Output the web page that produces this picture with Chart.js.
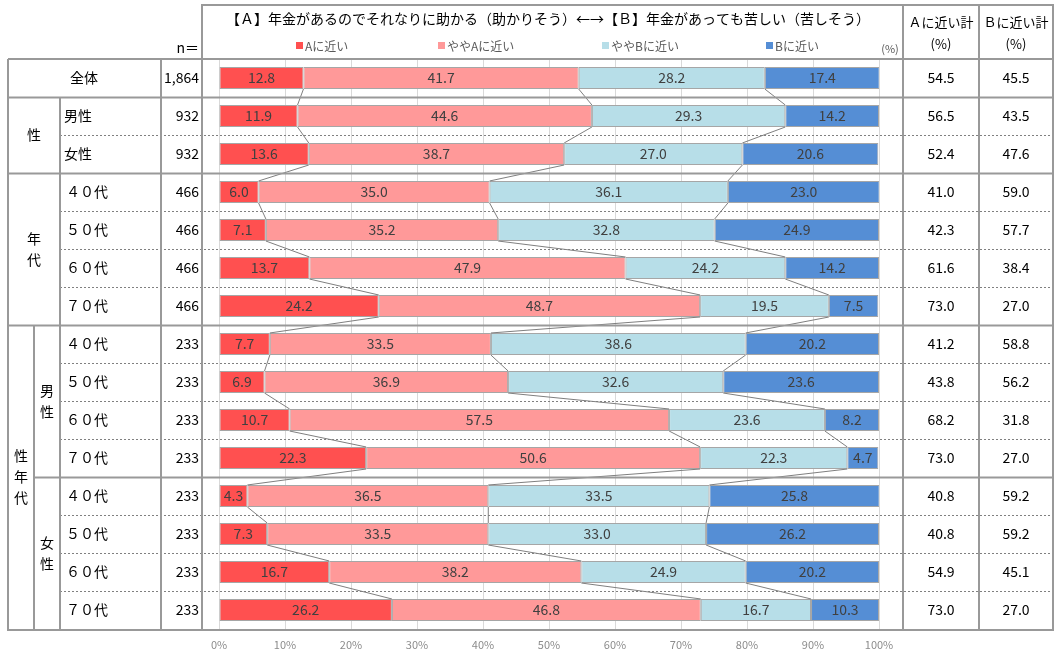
<!DOCTYPE html>
<html>
<head>
<meta charset="utf-8">
<script src="https://cdn.jsdelivr.net/npm/chart.js@4.4.1/dist/chart.umd.min.js"></script>
<style>
html,body{margin:0;padding:0;background:#fff;}
#wrap{width:1055px;height:652px;}
</style>
</head>
<body>
<div id="wrap"><canvas id="chart" width="1055" height="652"></canvas></div>
<script>
// ── data ──
var ROW_LABELS = ['全体','男性','女性','４０代','５０代','６０代','７０代','４０代','５０代','６０代','７０代','４０代','５０代','６０代','７０代'];
var N_LABELS = ['1,864','932','932','466','466','466','466','233','233','233','233','233','233','233','233'];
var SERIES_NAMES = ['Aに近い','ややAに近い','ややBに近い','Bに近い'];
var A_NEAR = [12.8,11.9,13.6,6.0,7.1,13.7,24.2,7.7,6.9,10.7,22.3,4.3,7.3,16.7,26.2];
var A_SOME = [41.7,44.6,38.7,35.0,35.2,47.9,48.7,33.5,36.9,57.5,50.6,36.5,33.5,38.2,46.8];
var B_SOME = [28.2,29.3,27.0,36.1,32.8,24.2,19.5,38.6,32.6,23.6,22.3,33.5,33.0,24.9,16.7];
var B_NEAR = [17.4,14.2,20.6,23.0,24.9,14.2,7.5,20.2,23.6,8.2,4.7,25.8,26.2,20.2,10.3];
var A_TOTAL = ['54.5','56.5','52.4','41.0','42.3','61.6','73.0','41.2','43.8','68.2','73.0','40.8','40.8','54.9','73.0'];
var B_TOTAL = ['45.5','43.5','47.6','59.0','57.7','38.4','27.0','58.8','56.2','31.8','27.0','59.2','59.2','45.1','27.0'];
var COLORS = ['#ff5050','#ff9999','#b7dee8','#558ed5'];
var TITLE = '【Ａ】年金があるのでそれなりに助かる（助かりそう）←→【Ｂ】年金があっても苦しい（苦しそう）';

var FONT = '"Noto Sans CJK JP","Noto Sans",sans-serif';
var LINE = '#999999';

// separators below each row: [style, startX]
var SEPS = [['s',8],['d',60],['s',8],['d',60],['d',60],['d',60],['s',8],['d',60],['d',60],['d',60],['s',34],['d',60],['d',60],['d',60]];

function rowGeom(chart){
    var y = chart.scales.y;
    var h = (y.bottom - y.top) / ROW_LABELS.length;
    return {top:y.top, h:h};
}

var tablePlugin = {
    id:'tableGrid',
    beforeDraw:function(chart){
        var ctx = chart.ctx;
        ctx.save();
        ctx.fillStyle = '#fff';
        ctx.fillRect(0,0,chart.width,chart.height);
        ctx.restore();
    },
    afterDatasetsDraw:function(chart){
        var ctx = chart.ctx, g = rowGeom(chart);
        var top = g.top, bot = g.top + g.h*ROW_LABELS.length;
        ctx.save();
        // row separators
        SEPS.forEach(function(s,i){
            var yy = Math.round(top + g.h*(i+1)) + 0.5;
            ctx.beginPath();
            if (s[0]==='d') { ctx.setLineDash([2,2]); ctx.strokeStyle='#808080'; ctx.lineWidth=1; }
            else { ctx.setLineDash([]); ctx.strokeStyle=LINE; ctx.lineWidth=2; }
            ctx.moveTo(s[1],yy); ctx.lineTo(1053,yy); ctx.stroke();
        });
        ctx.setLineDash([]);
        ctx.strokeStyle = LINE; ctx.lineWidth = 2;
        function ln(x1,y1,x2,y2){ ctx.beginPath(); ctx.moveTo(x1,y1); ctx.lineTo(x2,y2); ctx.stroke(); }
        ln(202,5,1054,5);
        ln(8,top,1054,top);
        ln(7,bot+1,1054,bot+1);
        ln(8,top,8,bot+2);
        ln(34,top+g.h*7,34,bot+2);
        ln(60,top+g.h,60,bot+2);
        ln(161,top,161,bot+2);
        ln(202,4,202,bot+2);
        ln(903,4,903,bot+2);
        ln(979,4,979,bot+2);
        ln(1053,4,1053,bot+2);

        // texts
        ctx.fillStyle = '#000';
        ctx.textBaseline = 'middle';
        ctx.font = '14px ' + FONT;
        ctx.textAlign = 'center';
        ctx.fillText(TITLE, 548, 19);
        ctx.font = '13px ' + FONT;
        ctx.fillText('Ａに近い計', 941, 22);
        ctx.fillText('(%)', 941, 44);
        ctx.fillText('Ｂに近い計', 1016, 22);
        ctx.fillText('(%)', 1016, 44);
        ctx.font = '14px ' + FONT;
        ctx.textAlign = 'right';
        ctx.fillText('n＝', 199, 48);
        ctx.font = '11px ' + FONT;
        ctx.fillStyle = '#595959';
        ctx.textAlign = 'center';
        ctx.fillText('(%)', 890, 49);

        // legend
        var legX = [296,438,602,766];
        ctx.font = '12px ' + FONT;
        ctx.textAlign = 'left';
        SERIES_NAMES.forEach(function(n,i){
            ctx.fillStyle = COLORS[i];
            ctx.fillRect(legX[i], 42, 7, 7);
            ctx.fillStyle = '#595959';
            ctx.fillText(n, legX[i]+9, 46);
        });

        // rows
        ctx.font = '14px ' + FONT;
        ctx.fillStyle = '#000';
        ROW_LABELS.forEach(function(lab,i){
            var cy = top + g.h*(i+0.5);
            if (i===0) { ctx.textAlign='center'; ctx.fillText(lab, 84, cy); }
            else if (i<3) { ctx.textAlign='left'; ctx.fillText(lab, 64, cy); }
            else { ctx.textAlign='left'; ctx.fillText(lab, 66, cy); }
            ctx.textAlign='right'; ctx.fillText(N_LABELS[i], 199, cy);
            ctx.textAlign='center';
            ctx.fillText(A_TOTAL[i], 941, cy);
            ctx.fillText(B_TOTAL[i], 1016, cy);
        });

        // group labels (vertical)
        function vtext(str,x,cy,step){
            var n = str.length;
            for (var k=0;k<n;k++) ctx.fillText(str[k], x, cy + (k-(n-1)/2)*step);
        }
        ctx.textAlign='center';
        vtext('性', 34, top+g.h*2, 21);
        vtext('年代', 34, top+g.h*5, 21);
        vtext('性年代', 21, top+g.h*11, 21);
        vtext('男性', 47, top+g.h*9, 21);
        vtext('女性', 47, top+g.h*13, 21);
        ctx.restore();
    }
};

var seriesLinesPlugin = {
    id:'seriesLines',
    afterDatasetsDraw:function(chart){
        var ctx = chart.ctx, x = chart.scales.x;
        var metas = [0,1,2].map(function(i){return chart.getDatasetMeta(i);});
        var sets = [A_NEAR,A_SOME,B_SOME];
        ctx.save();
        ctx.strokeStyle = '#7f7f7f'; ctx.lineWidth = 1;
        for (var r=0;r<ROW_LABELS.length-1;r++) {
            var cum1=0, cum2=0;
            for (var s=0;s<3;s++) {
                cum1 += sets[s][r]; cum2 += sets[s][r+1];
                var e1 = metas[s].data[r], e2 = metas[s].data[r+1];
                ctx.beginPath();
                ctx.moveTo(x.getPixelForValue(cum1), e1.y + e1.height/2);
                ctx.lineTo(x.getPixelForValue(cum2), e2.y - e2.height/2);
                ctx.stroke();
            }
        }
        // value labels
        ctx.fillStyle = '#404040';
        ctx.font = '14px ' + FONT;
        ctx.textAlign = 'center'; ctx.textBaseline = 'middle';
        chart.data.datasets.forEach(function(ds,di){
            chart.getDatasetMeta(di).data.forEach(function(el,i){
                var cx = (el.x + el.base)/2;
                ctx.fillText(ds.data[i].toFixed(1), cx, el.y);
            });
        });
        ctx.restore();
    }
};

var sets = [A_NEAR,A_SOME,B_SOME,B_NEAR];
new Chart(document.getElementById('chart'), {
    type:'bar',
    data:{
        labels:ROW_LABELS,
        datasets:sets.map(function(d,i){
            return {label:SERIES_NAMES[i],data:d,backgroundColor:COLORS[i],borderColor:'#a6a6a6',borderWidth:1,borderSkipped:false,barPercentage:0.58,categoryPercentage:1};
        })
    },
    options:{
        indexAxis:'y',
        responsive:false,
        animation:false,
        layout:{padding:{left:219,right:176,top:59,bottom:0}},
        plugins:{legend:{display:false},tooltip:{enabled:false}},
        scales:{
            x:{stacked:true,min:0,max:100,
               ticks:{stepSize:10,autoSkip:false,maxRotation:0,padding:9,color:'#8c8c8c',font:{size:11,family:FONT},callback:function(v){return v+'%';}},
               grid:{color:'#d9d9d9',drawTicks:false},
               border:{display:false},
               afterFit:function(s){ s.height = 23; }},
            y:{stacked:true,display:false}
        }
    },
    plugins:[seriesLinesPlugin,tablePlugin]
});
</script>
</body>
</html>
